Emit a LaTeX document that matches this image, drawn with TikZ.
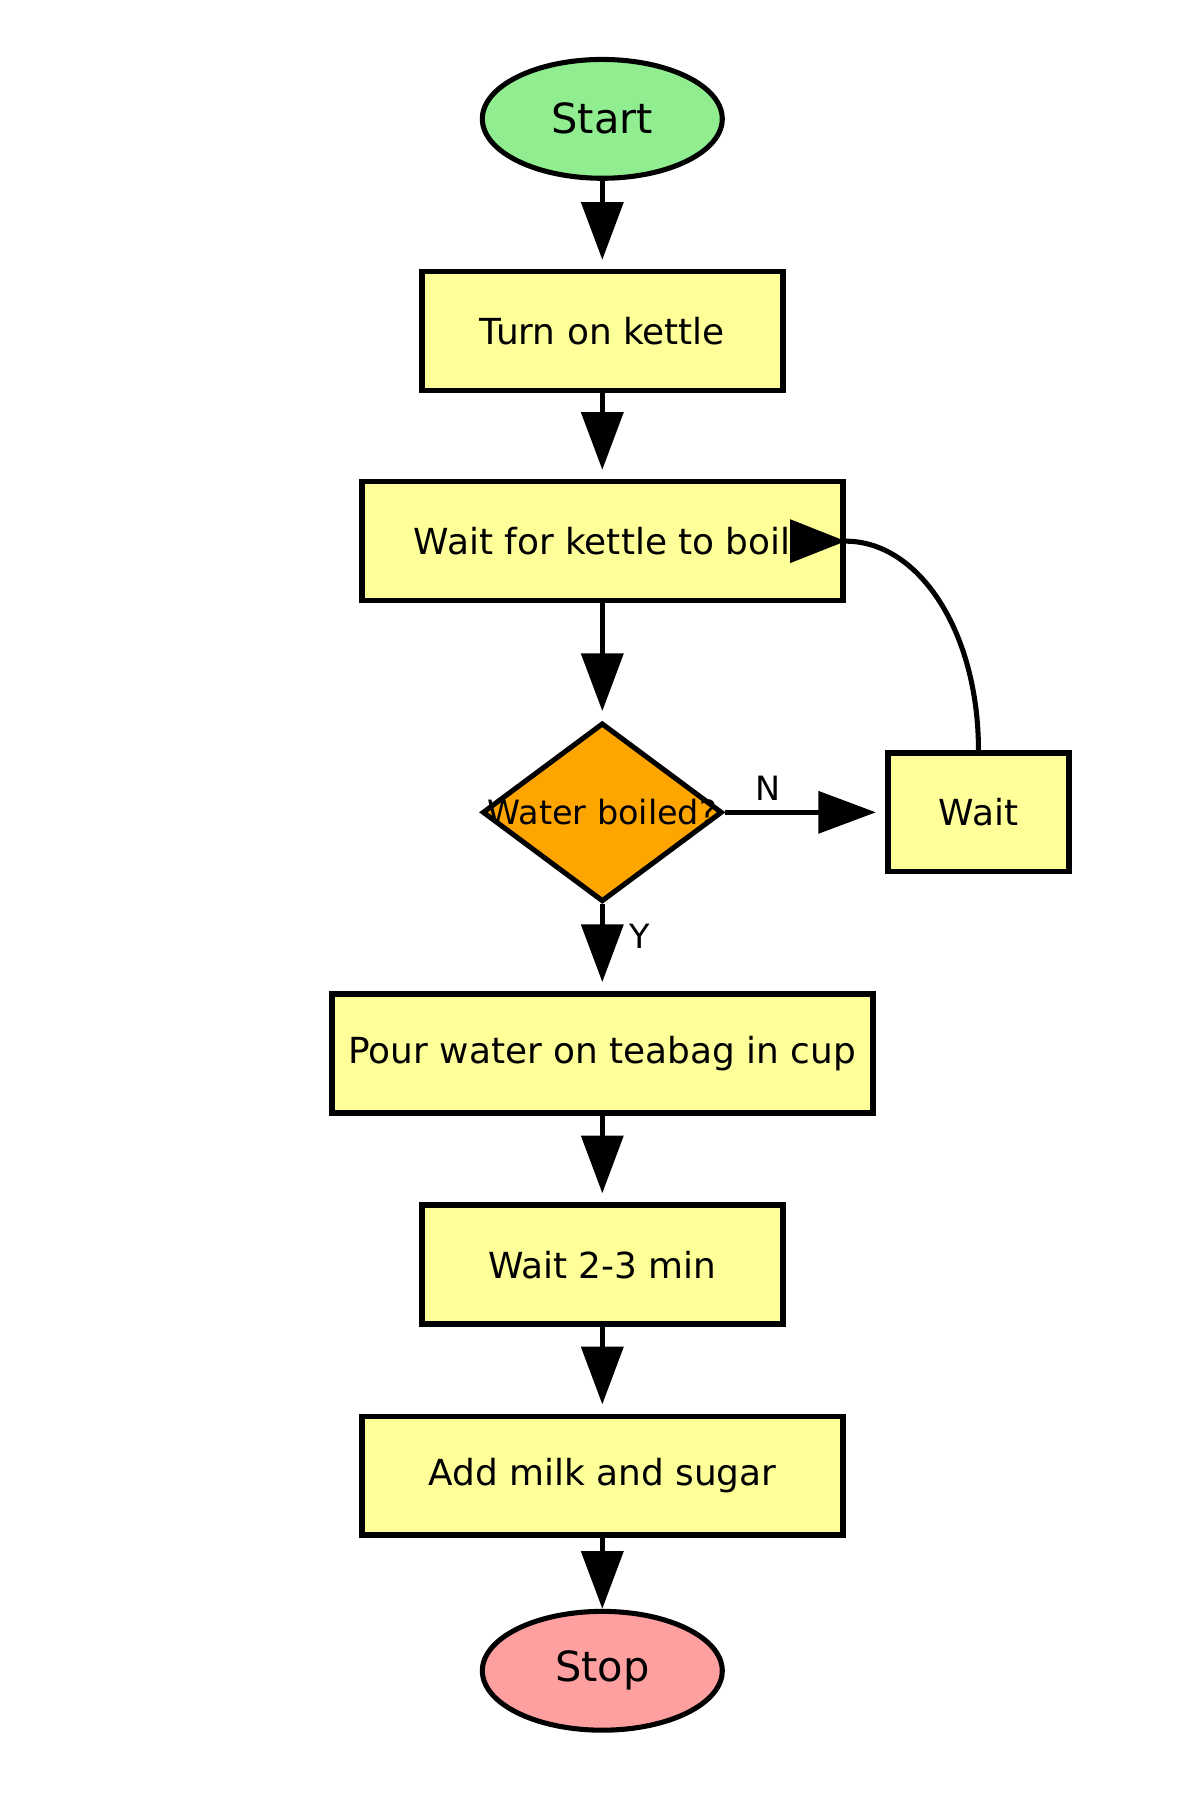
\documentclass[tikz,border=0pt]{standalone}
\usepackage{fontspec}
\setmainfont{DejaVu Sans}
\usetikzlibrary{shapes.geometric,arrows.meta}
\definecolor{startgreen}{HTML}{90EE90}
\definecolor{stoppink}{HTML}{FFA0A0}
\definecolor{boxyellow}{HTML}{FFFF99}
\definecolor{decorange}{HTML}{FFA500}
\begin{document}
\begin{tikzpicture}[x=0.02cm, y=-0.02cm,
		terminal/.style={ellipse, draw, line width=2.5pt, minimum width=4.16cm, minimum height=2.06cm, font=\fontsize{20.5}{24}\selectfont},
		process/.style={rectangle, draw, line width=2.7pt, fill=boxyellow, minimum height=2.06cm, font=\fontsize{17.7}{21}\selectfont},
		decision/.style={diamond, draw, line width=2.5pt, fill=decorange, minimum width=4.16cm, minimum height=3.1cm, inner sep=0pt},
		flow/.style={line width=2.6pt, -{Triangle[length=1cm, width=0.72cm]}, shorten >=0.16cm},
		branch/.style={font=\fontsize{16.5}{19}\selectfont}]
	\useasboundingbox (0,0) rectangle (1040,1560);
	\node[terminal, fill=startgreen] (start) at (522,103) {Start};
	\node[process, minimum width=6.26cm] (kettle) at (522,287) {Turn on kettle};
	\node[process, minimum width=8.34cm] (boil) at (522,469) {Wait for kettle to boil};
	\node[decision, label={[font=\fontsize{16.5}{19}\selectfont]center:Water boiled?}] (boiled) at (522,704) {};
	\node[process, minimum width=3.14cm] (wait) at (848,704) {Wait};
	\node[process, minimum width=9.38cm] (pour) at (522,913) {Pour water on teabag in cup};
	\node[process, minimum width=6.26cm] (steep) at (522,1096) {Wait 2-3 min};
	\node[process, minimum width=8.34cm] (milk) at (522,1279) {Add milk and sugar};
	\node[terminal, fill=stoppink] (stop) at (522,1448) {Stop};
	\draw[flow] (start) -- (kettle);
	\draw[flow] (kettle) -- (boil);
	\draw[flow] (boil) -- (boiled);
	\draw[flow] (boiled.east) -- node[branch, above=1pt, pos=.27] {N} (wait.west);
	\draw[flow] (boiled.south) -- node[branch, right=9pt, pos=.37] {Y} (pour.north);
	\draw[flow] (pour) -- (steep);
	\draw[flow] (steep) -- (milk);
	\draw[flow, shorten >=0pt] (milk) -- (stop);
	% loop back from wait
	\draw[line width=2.5pt] (wait.north) .. controls +(0,-102) and +(64,0) .. (boil.east);
	\fill (boil.east) -- ++(-48,-19) -- ++(0,38) -- cycle;
\end{tikzpicture}
\end{document}
